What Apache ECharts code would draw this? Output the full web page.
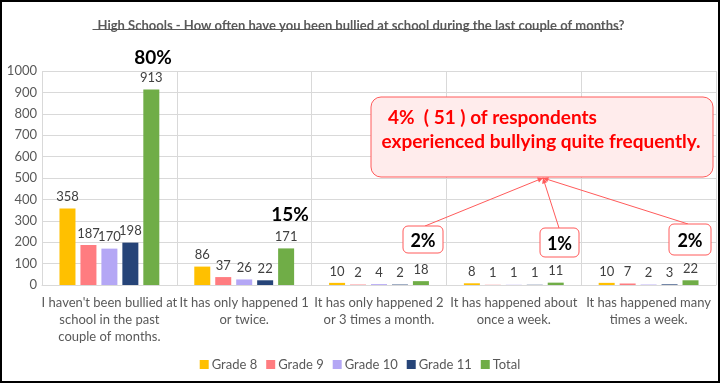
<!DOCTYPE html>
<html><head><meta charset="utf-8">
<script src="https://cdn.jsdelivr.net/npm/echarts@6/dist/echarts.min.js"></script>
<style>html,body{margin:0;padding:0;background:#fff}#c{width:720px;height:383px}</style>
</head><body><div id="c"></div>
<script>
const categories = [
  "I haven't been bullied at\nschool in the past\ncouple of months.",
  "It has only happened 1\nor twice.",
  "It has only happened 2\nor 3 times a month.",
  "It has happened about\nonce a week.",
  "It has happened many\ntimes a week."
];
const grade8  = [358, 86, 10, 8, 10];
const grade9  = [187, 37, 2, 1, 7];
const grade10 = [170, 26, 4, 1, 2];
const grade11 = [198, 22, 2, 1, 3];
const total   = [913, 171, 18, 11, 22];
const yTicks = {min: 0, max: 1000, interval: 100};

const FONT = 'Lato, "Open Sans", sans-serif';
const colors = ['#FFC000', '#FF7C80', '#B4A7F5', '#264478', '#70AD47'];
const names = ['Grade 8', 'Grade 9', 'Grade 10', 'Grade 11', 'Total'];
const seriesData = [grade8, grade9, grade10, grade11, total];
const titleText = 'High Schools - How often have you been bullied at school during the last couple of months?';

const cv = document.createElement('canvas').getContext('2d');
cv.font = 'bold 13px ' + FONT;
const tw = cv.measureText(titleText).width;

const chart = echarts.init(document.getElementById('c'));
const red = '#FF5B5B';
function box(x, y, w, h, txt) {
  return [
    {type: 'rect', shape: {x, y, width: w, height: h, r: 5}, style: {fill: '#fff', stroke: red, lineWidth: 1}, z: 10},
    {type: 'text', x: x + w / 2, y: y + h / 2 + 2, style: {text: txt, fill: '#000', font: 'bold 18px ' + FONT, align: 'center', verticalAlign: 'middle'}, z: 11}
  ];
}
function arrow(x1, y1, x2, y2) {
  const ang = Math.atan2(y2 - y1, x2 - x1), L = 6, a = 0.45;
  return [
    {type: 'line', shape: {x1, y1, x2, y2}, style: {stroke: red, lineWidth: 1}, z: 9},
    {type: 'polygon', shape: {points: [[x2, y2],
      [x2 - L * Math.cos(ang - a), y2 - L * Math.sin(ang - a)],
      [x2 - L * Math.cos(ang + a), y2 - L * Math.sin(ang + a)]]}, style: {fill: red}, z: 9}
  ];
}
const tip = [543, 178];
const graphics = [
  {type: 'line', shape: {x1: 356 - tw / 2, y1: 29.5, x2: 356 + tw / 2, y2: 29.5}, style: {stroke: '#595959', lineWidth: 1}},
  {type: 'text', x: 153, y: 58, style: {text: '80%', fill: '#000', font: 'bold 19px ' + FONT, align: 'center', verticalAlign: 'middle'}},
  {type: 'text', x: 290, y: 215, style: {text: '15%', fill: '#000', font: 'bold 19px ' + FONT, align: 'center', verticalAlign: 'middle'}},
  {type: 'rect', shape: {x: 371, y: 97, width: 342, height: 80, r: 10}, style: {fill: '#FFECEC', stroke: red, lineWidth: 1}, z: 10},
  {type: 'text', x: 388, y: 118, style: {text: '4%  ( 51 ) of respondents', fill: '#FF0000', font: 'bold 19px ' + FONT, verticalAlign: 'middle'}, z: 11},
  {type: 'text', x: 541, y: 142, style: {text: 'experienced bullying quite frequently.', fill: '#FF0000', font: 'bold 19px ' + FONT, align: 'center', verticalAlign: 'middle'}, z: 11},
  ...arrow(425, 226, tip[0], tip[1]),
  ...arrow(559, 228, tip[0], tip[1]),
  ...arrow(688, 224, tip[0], tip[1]),
  ...box(403, 226, 40, 27, '2%'),
  ...box(540, 228, 39, 29, '1%'),
  ...box(669, 224, 42, 31, '2%'),
  {type: 'rect', shape: {x: 1, y: 1, width: 718, height: 381}, style: {fill: 'none', stroke: '#000', lineWidth: 2}, z: 20}
];

chart.setOption({
  animation: false,
  backgroundColor: '#fff',
  title: {
    text: titleText,
    left: 356, textAlign: 'center', top: 14,
    textStyle: {fontFamily: FONT, fontSize: 13, fontWeight: 'bold', color: '#595959'}
  },
  legend: {
    data: names, bottom: 7, left: 'center', itemWidth: 9, itemHeight: 9, itemGap: 9,
    icon: 'rect', textStyle: {fontFamily: FONT, fontSize: 13, color: '#595959', padding: [0, 0, 0, -2]}
  },
  grid: {left: 42, right: 4, top: 71, bottom: 98, containLabel: false},
  xAxis: {
    type: 'category', data: categories,
    axisLine: {lineStyle: {color: '#d9d9d9'}},
    axisTick: {show: false},
    splitLine: {show: true, lineStyle: {color: '#d9d9d9'}},
    axisLabel: {interval: 0, fontFamily: FONT, fontSize: 13, color: '#595959', lineHeight: 17, margin: 9}
  },
  yAxis: {
    type: 'value', min: yTicks.min, max: yTicks.max, interval: yTicks.interval,
    axisLine: {show: false}, axisTick: {show: false},
    splitLine: {lineStyle: {color: '#d9d9d9'}},
    axisLabel: {fontFamily: FONT, fontSize: 13, color: '#595959', margin: 5, formatter: v => String(v)}
  },
  series: names.map((n, i) => ({
    name: n, type: 'bar', data: seriesData[i], barWidth: 16, barGap: '31%',
    itemStyle: {color: colors[i]},
    label: {show: true, position: 'top', distance: 5, fontFamily: FONT, fontSize: 13, color: '#404040'}
  })),
  graphic: graphics
});
</script></body></html>
